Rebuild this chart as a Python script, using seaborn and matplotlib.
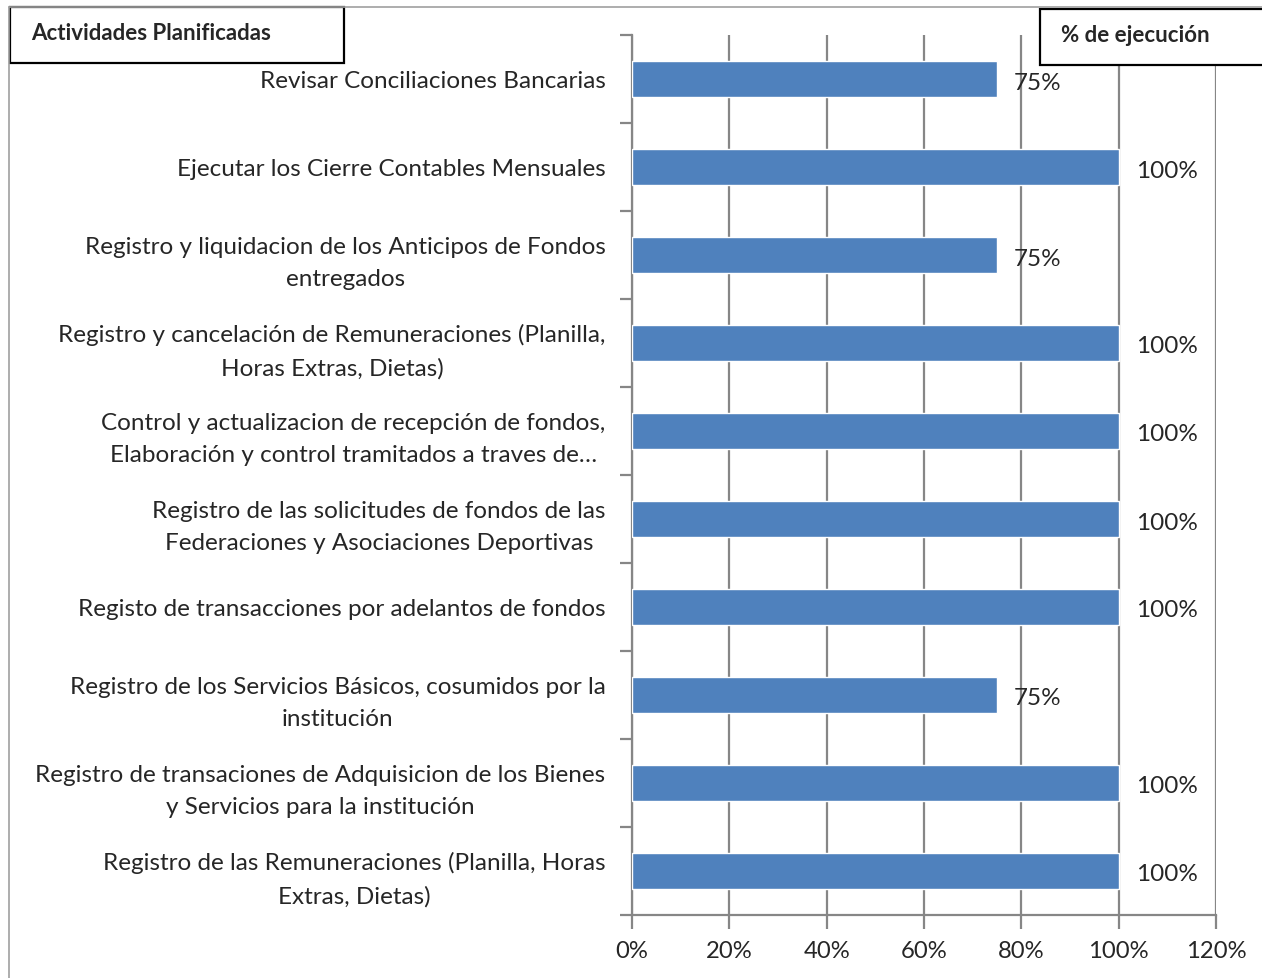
import pandas as pd
import matplotlib
matplotlib.use("Agg")
import matplotlib.pyplot as plt
import seaborn as sns
from matplotlib.patches import Rectangle
from matplotlib.ticker import FuncFormatter

actividades = [
    "Revisar Conciliaciones Bancarias",
    "Ejecutar los Cierre Contables Mensuales",
    "Registro y liquidacion de los Anticipos de Fondos\nentregados",
    "Registro y cancelación de Remuneraciones (Planilla,\nHoras Extras, Dietas)",
    "Control y actualizacion de recepción de fondos,\nElaboración y control tramitados a traves de…",
    "Registro de las solicitudes de fondos de las\nFederaciones y Asociaciones Deportivas",
    "Registo de transacciones por adelantos de fondos",
    "Registro de los Servicios Básicos, cosumidos por la\ninstitución",
    "Registro de transaciones de Adquisicion de los Bienes\ny Servicios para la institución",
    "Registro de las Remuneraciones (Planilla, Horas\nExtras, Dietas)",
]
ejecucion = [0.75, 1.0, 0.75, 1.0, 1.0, 1.0, 1.0, 0.75, 1.0, 1.0]
x_ticks = [0, 0.2, 0.4, 0.6, 0.8, 1.0, 1.2]

df = pd.DataFrame({"Actividad": actividades, "Ejecucion": ejecucion})

sns.set_style("white")
plt.rcParams["font.family"] = ["Lato", "DejaVu Sans"]

fig = plt.figure(figsize=(12.62, 9.79), dpi=100)
ax = fig.add_axes([632 / 1262, 1 - 916 / 979, (1216 - 632) / 1262, (916 - 36) / 979])

grid_col = "#868686"
sns.barplot(data=df, x="Ejecucion", y="Actividad", orient="h", color="#4F81BD",
            saturation=1, width=0.4, ax=ax, zorder=3)

ax.set_xlim(0, 1.2)
ax.set_ylim(len(actividades) - 0.5, -0.5)
ax.set_xticks(x_ticks)
ax.xaxis.set_major_formatter(FuncFormatter(lambda v, p: f"{v * 100:.0f}%"))
ax.grid(axis="x", color=grid_col, linewidth=1.6, zorder=0)
ax.set_xlabel("")
ax.set_ylabel("")

# y ticks at category boundaries, labels centred on bars
ax.set_yticks([i - 0.5 for i in range(len(actividades) + 1)])
ax.set_yticklabels([])
ax.set_yticks(range(len(actividades)), minor=True)
ax.set_yticklabels(actividades, minor=True, fontsize=17.5, ha="right",
                   multialignment="center", linespacing=1.65)
ax.tick_params(axis="y", which="minor", length=0, pad=19)
ax.tick_params(axis="y", which="major", length=9, width=1.6, color=grid_col, left=True)
ax.tick_params(axis="x", length=10, width=1.6, color=grid_col, labelsize=17.2, pad=8, bottom=True)

for s in ["top", "right"]:
    ax.spines[s].set_visible(False)
for s in ["left", "bottom"]:
    ax.spines[s].set_color(grid_col)
    ax.spines[s].set_linewidth(1.6)

for i, v in enumerate(ejecucion):
    ax.annotate(f"{v * 100:.0f}%", (v, i), xytext=(17, -3), textcoords="offset pixels",
                va="center", ha="left", fontsize=17.5, zorder=5)

# outer chart border
fig.add_artist(plt.Line2D([9 / 1262, 1], [1 - 8 / 979, 1 - 8 / 979], color="#a0a0a0", lw=1.2))
fig.add_artist(plt.Line2D([9 / 1262, 9 / 1262], [0, 1 - 8 / 979], color="#a0a0a0", lw=1.2))

# header boxes
fig.add_artist(Rectangle((10 / 1262, 1 - 64 / 979), 334 / 1262, 56 / 979,
                         transform=fig.transFigure, fill=True, facecolor="white",
                         edgecolor="black", lw=1.6))
fig.text(31 / 1262, 1 - 34 / 979, "Actividades Planificadas", fontsize=16,
         fontweight="bold", va="center", ha="left")
fig.add_artist(Rectangle((1040 / 1262, 1 - 66 / 979), 240 / 1262, 56 / 979,
                         transform=fig.transFigure, fill=True, facecolor="white",
                         edgecolor="black", lw=1.6))
fig.text(1061 / 1262, 1 - 36 / 979, "% de ejecución", fontsize=16,
         fontweight="bold", va="center", ha="left")

fig.savefig("out.png", dpi=100)
